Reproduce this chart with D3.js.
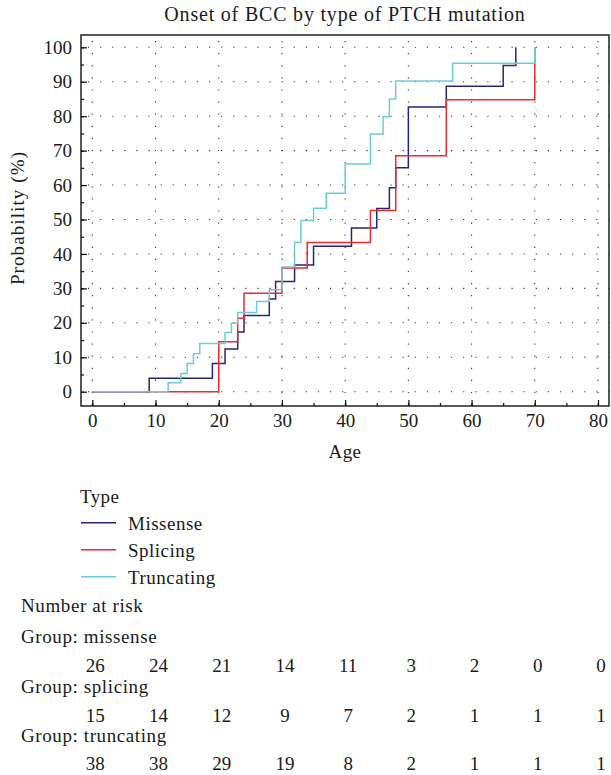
<!DOCTYPE html>
<html>
<head>
<meta charset="utf-8">
<script src="https://cdn.jsdelivr.net/npm/d3@7"></script>
<style>
  body { margin: 0; background: #fff; }
  text { font-family: "Liberation Serif", "DejaVu Serif", serif; fill: #1a1a1a; }
</style>
</head>
<body>
<div id="chart"></div>
<script>
"use strict";

// step points: age at which the curve jumps, cumulative %
const missenseAge  = [0, 9, 19, 21, 23, 24, 28, 29, 32, 35, 41, 45, 47, 48, 50, 56, 65, 67];
const missenseProb = [0, 3.9, 8.2, 12.4, 17.3, 22.1, 26.9, 32.0, 36.8, 42.2, 47.5, 53.2, 59.2, 65.0, 82.7, 88.7, 94.7, 100];

const splicingAge  = [0, 20, 23, 24, 30, 34, 44, 48, 56, 70];
const splicingProb = [0, 14.5, 21.3, 28.6, 35.9, 43.3, 52.6, 68.5, 84.8, 100];

const truncatingAge  = [0, 12, 14, 15, 16, 17, 21, 22, 23, 26, 28, 30, 32, 33, 35, 37, 40, 44, 46, 47, 48, 57, 70];
const truncatingProb = [0, 2.6, 5.3, 8.2, 11.0, 14.0, 17.2, 19.9, 23.0, 26.2, 29.6, 36.2, 43.3, 49.7, 53.3, 57.6, 66.1, 74.8, 79.8, 85.0, 90.2, 95.4, 100];

const riskAges       = [0, 10, 20, 30, 40, 50, 60, 70, 80];
const riskMissense   = [26, 24, 21, 14, 11, 3, 2, 0, 0];
const riskSplicing   = [15, 14, 12, 9, 7, 2, 1, 1, 1];
const riskTruncating = [38, 38, 29, 19, 8, 2, 1, 1, 1];

const groups = ["Missense", "Splicing", "Truncating"];
const colors = ["#25257a", "#ee2a2a", "#6ccbdb"];

const series = [
    {name: "Missense",   ages: missenseAge,   probs: missenseProb,   risk: riskMissense,   label: "Group: missense"},
    {name: "Splicing",   ages: splicingAge,   probs: splicingProb,   risk: riskSplicing,   label: "Group: splicing"},
    {name: "Truncating", ages: truncatingAge, probs: truncatingProb, risk: riskTruncating, label: "Group: truncating"}
];

const width = 611;
const height = 775;
const frame = ({left: 81, right: 609, top: 35, bottom: 406});
const fs = 19;

// baselines of the number-at-risk rows (label, numbers)
const riskRows = [[643, 672], [693, 721.5], [741.5, 770]];

const x = d3.scaleLinear()
    .domain([0, 80])
    .range([92.3, 598]);

const y = d3.scaleLinear()
    .domain([0, 100])
    .range([391.7, 47.3]);

const color = d3.scaleOrdinal().domain(groups).range(colors);

const svg = d3.select("#chart").append("svg")
    .attr("width", width)
    .attr("height", height);

// dotted grid
const grid = svg.append("g")
    .attr("stroke", "#333")
    .attr("stroke-width", 1.1)
    .attr("stroke-dasharray", "1.2,10.9");

grid.selectAll(".gx")
    .data(d3.range(0, 81, 10))
    .join("line")
        .attr("x1", d => x(d)).attr("x2", d => x(d))
        .attr("y1", frame.top + 6).attr("y2", frame.bottom);

grid.selectAll(".gy")
    .data(d3.range(0, 101, 10))
    .join("line")
        .attr("y1", d => y(d)).attr("y2", d => y(d))
        .attr("x1", frame.left + 7).attr("x2", frame.right);

// axes, ticks pointing into the frame
svg.append("g")
    .attr("transform", `translate(0,${frame.bottom})`)
    .call(d3.axisBottom(x).tickValues(d3.range(0, 81, 5)).tickSize(-3).tickFormat(""))
    .call(g => g.select(".domain").remove());

svg.append("g")
    .attr("transform", `translate(0,${frame.bottom})`)
    .call(d3.axisBottom(x).tickValues(d3.range(0, 81, 10)).tickSize(-6).tickPadding(8))
    .call(g => g.select(".domain").remove())
    .call(g => g.selectAll("text").attr("font-size", fs).attr("font-family", null));

svg.append("g")
    .attr("transform", `translate(${frame.left},0)`)
    .call(d3.axisLeft(y).tickValues(d3.range(0, 101, 5)).tickSize(-3).tickFormat(""))
    .call(g => g.select(".domain").remove());

svg.append("g")
    .attr("transform", `translate(${frame.left},0)`)
    .call(d3.axisLeft(y).tickValues(d3.range(0, 101, 10)).tickSize(-6).tickPadding(9))
    .call(g => g.select(".domain").remove())
    .call(g => g.selectAll("text").attr("font-size", fs).attr("font-family", null));

svg.selectAll(".tick line").attr("stroke", "#111").attr("stroke-width", 1.2);

svg.append("rect")
    .attr("x", frame.left)
    .attr("y", frame.top)
    .attr("width", frame.right - frame.left)
    .attr("height", frame.bottom - frame.top)
    .attr("fill", "none")
    .attr("stroke", "#111")
    .attr("stroke-width", 1.4);

// step curves
const line = d3.line()
    .curve(d3.curveStepAfter)
    .x(d => x(d[0]))
    .y(d => y(d[1]));

svg.append("g")
    .attr("fill", "none")
    .attr("stroke-width", 1.5)
  .selectAll("path")
  .data(series)
  .join("path")
    .attr("stroke", d => color(d.name))
    .attr("d", d => line(d.ages.map((a, i) => [a, d.probs[i]])));

// titles
svg.append("text")
    .attr("x", (frame.left + frame.right) / 2)
    .attr("y", 21)
    .attr("text-anchor", "middle")
    .attr("font-size", 20)
    .attr("letter-spacing", 0.8)
    .text("Onset of BCC by type of PTCH mutation");

svg.append("text")
    .attr("x", (frame.left + frame.right) / 2)
    .attr("y", 458)
    .attr("text-anchor", "middle")
    .attr("font-size", fs)
    .attr("letter-spacing", 0.4)
    .text("Age");

svg.append("text")
    .attr("transform", "translate(24,218) rotate(-90)")
    .attr("text-anchor", "middle")
    .attr("font-size", fs)
    .attr("letter-spacing", 1.1)
    .text("Probability (%)");

// legend
svg.append("text")
    .attr("x", 80)
    .attr("y", 503)
    .attr("font-size", fs)
    .attr("letter-spacing", 0.4)
    .text("Type");

const legend = svg.append("g")
  .selectAll("g")
  .data(series)
  .join("g")
    .attr("transform", (d, i) => `translate(81,${522.7 + i * 27})`);

legend.append("line")
    .attr("x1", 0).attr("x2", 35)
    .attr("stroke", d => color(d.name))
    .attr("stroke-width", 1.4);

legend.append("text")
    .attr("x", 47)
    .attr("y", 7)
    .attr("font-size", fs)
    .attr("letter-spacing", 0.5)
    .text(d => d.name);

// number at risk table
svg.append("text")
    .attr("x", 21)
    .attr("y", 611.5)
    .attr("font-size", fs)
    .attr("letter-spacing", 0.6)
    .text("Number at risk");

const risk = svg.append("g")
  .selectAll("g")
  .data(series)
  .join("g");

risk.append("text")
    .attr("x", 21)
    .attr("y", (d, i) => riskRows[i][0])
    .attr("font-size", fs)
    .attr("letter-spacing", 0.6)
    .text(d => d.label);

risk.each(function(d, i) {
    d3.select(this).selectAll(".n")
      .data(d.risk.map((v, j) => [riskAges[j], v]))
      .join("text")
        .attr("class", "n")
        .attr("x", e => x(e[0]) + 3)
        .attr("y", riskRows[i][1])
        .attr("text-anchor", "middle")
        .attr("font-size", fs)
        .text(e => e[1]);
});
</script>
</body>
</html>
